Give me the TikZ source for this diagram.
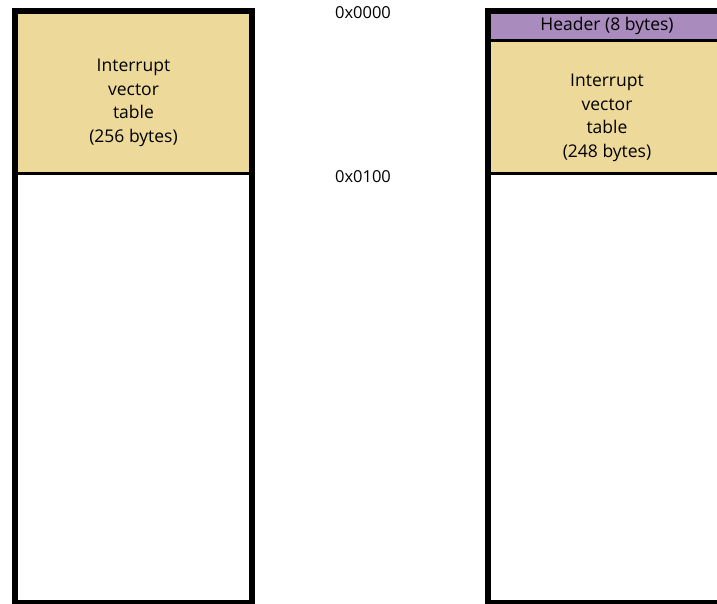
\documentclass[tikz,border=0pt]{standalone}
\usepackage{fontspec}
\setmainfont{Open Sans}
\definecolor{ivt}{RGB}{237,217,153}
\definecolor{hdr}{RGB}{169,139,190}
\tikzset{
  frame/.style={draw=black, line width=6pt},
  divider/.style={draw=black, line width=3pt},
  lbl/.style={align=center, font=\fontsize{17.5}{23.5}\selectfont, inner sep=0pt},
  addr/.style={font=\fontsize{16.5}{18}\selectfont, inner sep=0pt}
}
\begin{document}
\begin{tikzpicture}[x=1pt,y=1pt]
\useasboundingbox (0,0) rectangle (717,604);
\clip (0,0) rectangle (717,604);
% left column
\fill[ivt] (15,430) rectangle (252,593);
\draw[divider] (15,430) -- (252,430);
\draw[frame] (15,1) rectangle (252,593);
\node[lbl] (ivtL) at (133.5,501) {Interrupt\\vector\\table\\(256 bytes)};
% right column
\fill[hdr] (488,563.5) rectangle (726,593);
\fill[ivt] (488,430) rectangle (726,563.5);
\draw[divider] (488,563.5) -- (726,563.5);
\draw[divider] (488,430) -- (726,430);
\draw[frame] (488,1) rectangle (726,593);
\node[lbl, anchor=base] (hdrR) at (607,573) {Header (8 bytes)};
\node[lbl] (ivtR) at (607,486) {Interrupt\\vector\\table\\(248 bytes)};
% addresses
\node[addr, anchor=base] (a0) at (363,585) {0x0000};
\node[addr, anchor=base] (a1) at (363,421) {0x0100};
\end{tikzpicture}
\end{document}
